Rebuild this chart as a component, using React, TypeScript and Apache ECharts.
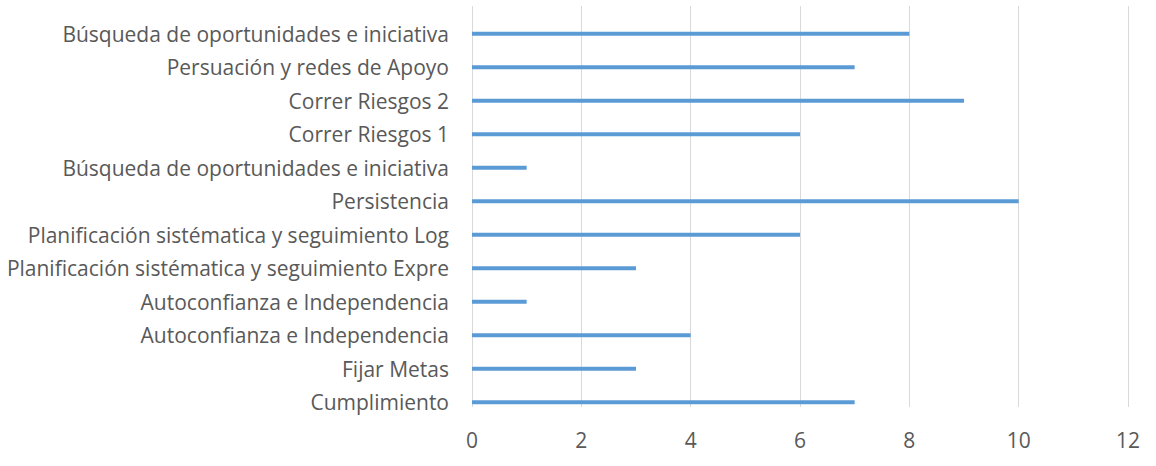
import React, { useEffect, useRef } from "react";
import * as echarts from "echarts";

const categories = [
  "Búsqueda de oportunidades e iniciativa",
  "Persuación y redes de Apoyo",
  "Correr Riesgos 2",
  "Correr Riesgos 1",
  "Búsqueda de oportunidades e iniciativa",
  "Persistencia",
  "Planificación sistématica y seguimiento Log",
  "Planificación sistématica y seguimiento Expre",
  "Autoconfianza e Independencia",
  "Autoconfianza e Independencia",
  "Fijar Metas",
  "Cumplimiento",
];
const values = [8, 7, 9, 6, 1, 10, 6, 3, 1, 4, 3, 7];
const xTicks = [0, 2, 4, 6, 8, 10, 12];

const FONT = "Open Sans";
const TEXT = "#595959";
const FS = 21;

export default function App() {
  const ref = useRef<HTMLDivElement>(null);
  useEffect(() => {
    const chart = echarts.init(ref.current!, undefined, { renderer: "svg" });
    chart.setOption({
      animation: false,
      backgroundColor: "#ffffff",
      grid: [
        { left: 472, top: 6, width: 656, height: 401, containLabel: false },
        { left: 472, top: 17, width: 656, height: 402, containLabel: false },
      ],
      xAxis: [
        {
          gridIndex: 0,
          type: "value",
          min: xTicks[0],
          max: xTicks[xTicks.length - 1],
          interval: 2,
          axisLine: { show: false },
          axisTick: { show: false },
          splitLine: { show: true, lineStyle: { color: "#d9d9d9", width: 1 } },
          axisLabel: {
            color: TEXT,
            fontFamily: FONT,
            fontSize: FS,
            margin: 22,
          },
        },
        {
          gridIndex: 1,
          type: "value",
          min: xTicks[0],
          max: xTicks[xTicks.length - 1],
          interval: 2,
          show: false,
          splitLine: { show: false },
        },
      ],
      yAxis: [
        {
          gridIndex: 0,
          type: "category",
          data: categories,
          inverse: true,
          show: false,
        },
        {
          gridIndex: 1,
          type: "category",
          data: categories,
          inverse: true,
          axisLine: { show: false },
          axisTick: { show: false },
          splitLine: { show: false },
          axisLabel: {
            color: TEXT,
            fontFamily: FONT,
            fontSize: FS,
            margin: 23,
          },
        },
      ],
      series: [
        {
          type: "bar",
          xAxisIndex: 1,
          yAxisIndex: 1,
          data: values,
          barWidth: 4,
          itemStyle: { color: "#5b9bd5" },
        },
      ],
    });
    return () => chart.dispose();
  }, []);
  return (
    <div
      ref={ref}
      style={{ position: "absolute", left: 0, top: 0, width: 1156, height: 466 }}
    />
  );
}
